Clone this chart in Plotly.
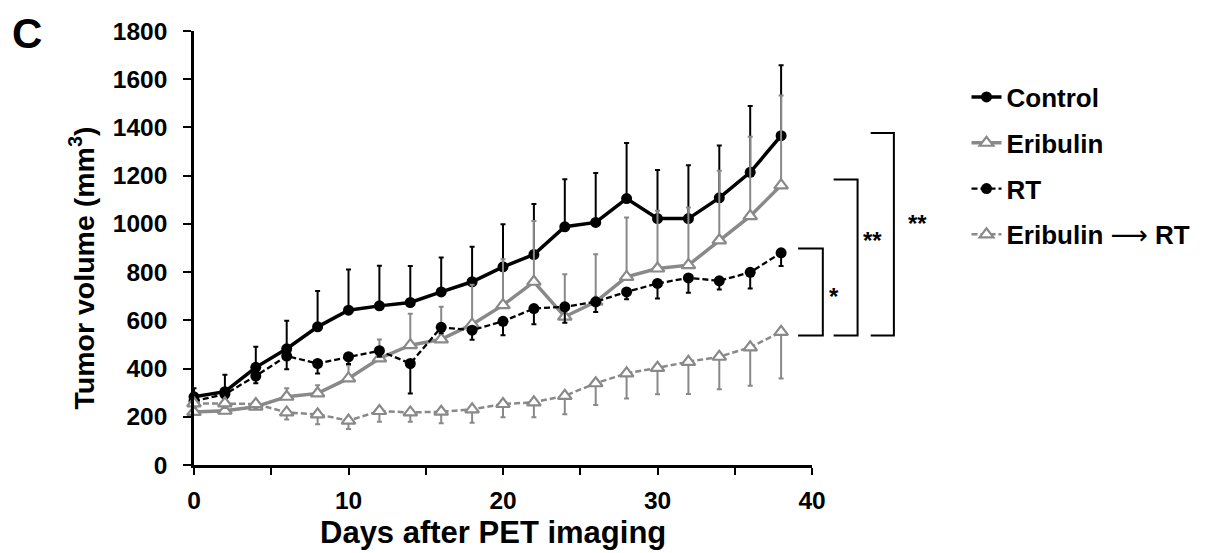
import plotly.graph_objects as go

# Days after PET imaging
days = [0, 2, 4, 6, 8, 10, 12, 14, 16, 18, 20, 22, 24, 26, 28, 30, 32, 34, 36, 38]

# Mean tumor volume (mm^3) per group and error-bar lengths
control = [283, 304, 405, 482, 573, 642, 660, 674, 718, 760, 822, 873, 988, 1006, 1105, 1022, 1022, 1108, 1214, 1366]
control_err = [35, 70, 85, 116, 149, 169, 166, 151, 143, 145, 177, 209, 197, 205, 231, 201, 221, 217, 275, 292]

eribulin = [220, 225, 242, 283, 297, 359, 442, 497, 521, 583, 663, 760, 615, 677, 780, 815, 829, 932, 1032, 1160]
eribulin_err = [20, 20, 15, 35, 34, 55, 79, 130, 135, 165, 190, 252, 176, 197, 246, 239, 239, 288, 329, 373]

rt = [265, 294, 369, 452, 421, 449, 474, 421, 571, 559, 596, 649, 656, 677, 718, 753, 776, 764, 799, 880]
rt_err = [15, 20, 30, 55, 41, 30, 25, 124, 25, 40, 58, 65, 66, 42, 31, 62, 62, 36, 67, 55]

eri_rt = [256, 256, 253, 218, 210, 184, 224, 218, 221, 231, 253, 260, 287, 339, 380, 403, 428, 449, 488, 552]
eri_rt_err = [20, 20, 20, 29, 41, 35, 45, 39, 48, 56, 55, 62, 77, 90, 104, 110, 134, 135, 159, 193]

series_names = ["Control", "Eribulin", "RT",
                "Eribulin <span style='font-family:DejaVu Sans;font-weight:normal'>\u27f6</span> RT"]

# Axis ticks: labelled every 10 days, minor ticks every 5
x_tickvals = [0, 10, 20, 30, 40]
x_minor_step = 5
y_tickvals = [0, 200, 400, 600, 800, 1000, 1200, 1400, 1600, 1800]

# Significance brackets (day positions of left/right ends, top level, common bottom level)
bracket_left = [39.1, 41.4, 43.8]
bracket_right = [40.7, 42.95, 45.3]
bracket_tops = [898, 1184, 1377]
bracket_bottom = 537
sig_labels = ["*", "**", "**"]
sig_x = [41.45, 43.9, 46.8]
sig_y = [700, 932, 1003]

FONT = "Arial, Liberation Sans, sans-serif"
BLACK = "#000000"
GRAY = "#898989"
X_MAX = 40

fig = go.Figure()


def add_series(name, y, err, color, width, dash, symbol, fill, upward, group):
    err_kw = dict(type="data", symmetric=False, color=color, thickness=2, width=2.5, visible=True)
    if upward:
        err_kw["array"] = err
        err_kw["arrayminus"] = [0] * len(err)
    else:
        err_kw["array"] = [0] * len(err)
        err_kw["arrayminus"] = err
    fig.add_trace(go.Scatter(
        x=days, y=y, name=name, mode="lines+markers",
        legendgroup=group,
        line=dict(color=color, width=width, dash=dash),
        marker=dict(symbol=symbol, size=11 if symbol == "circle" else 12,
                    color=fill, line=dict(color=color, width=0 if symbol == "circle" else 2.2)),
        error_y=err_kw,
        cliponaxis=False,
    ))


add_series(series_names[0], control, control_err, BLACK, 3.5, "solid", "circle", BLACK, True, "g1")
add_series(series_names[1], eribulin, eribulin_err, GRAY, 3.5, "solid", "triangle-up", "white", True, "g2")
add_series(series_names[2], rt, rt_err, BLACK, 2.3, "6px,3px", "circle", BLACK, False, "g3")
add_series(series_names[3], eri_rt, eri_rt_err, GRAY, 2.5, "6px,3px", "triangle-up", "white", False, "g4")

shapes = []
for xl, xr, top in zip(bracket_left, bracket_right, bracket_tops):
    x0, x1 = xl / X_MAX, xr / X_MAX
    path = f"M{x0},{top} L{x1},{top} L{x1},{bracket_bottom} L{x0},{bracket_bottom}"
    shapes.append(dict(type="path", xref="paper", yref="y", path=path,
                       line=dict(color=BLACK, width=2)))

annotations = []
for lbl, sx, sy in zip(sig_labels, sig_x, sig_y):
    annotations.append(dict(text=f"<b>{lbl}</b>", x=sx / X_MAX, y=sy, xref="paper", yref="y",
                            showarrow=False, xanchor="center", yanchor="middle",
                            font=dict(family=FONT, size=24, color=BLACK)))

# Panel letter
annotations.append(dict(text="<b>C</b>", x=-0.2695, y=0.994, xref="paper", yref="paper",
                        showarrow=False, xanchor="center", yanchor="middle",
                        font=dict(family=FONT, size=42, color=BLACK)))
# Axis titles
annotations.append(dict(text="<b>Tumor volume (mm<sup>3</sup>)</b>", x=-0.1815, y=0.4548,
                        xref="paper", yref="paper", textangle=-90, showarrow=False,
                        xanchor="center", yanchor="middle",
                        font=dict(family=FONT, size=28.5, color=BLACK)))
annotations.append(dict(text="<b>Days after PET imaging</b>", x=0.484, y=-0.1566,
                        xref="paper", yref="paper", showarrow=False,
                        xanchor="center", yanchor="middle",
                        font=dict(family=FONT, size=31, color=BLACK)))

fig.update_layout(
    width=1208, height=553,
    margin=dict(l=194, r=396, t=31, b=88, pad=0),
    paper_bgcolor="white", plot_bgcolor="white",
    font=dict(family=FONT, color=BLACK),
    showlegend=True,
    legend=dict(x=1.25, y=0.902, xanchor="left", yanchor="top",
                font=dict(family=FONT, size=26, color=BLACK, weight="bold"),
                tracegroupgap=9, bgcolor="rgba(0,0,0,0)"),
    xaxis=dict(range=[0, X_MAX], tickvals=x_tickvals,
               ticks="outside", ticklen=7, tickwidth=2, tickcolor=BLACK,
               minor=dict(dtick=x_minor_step, tick0=0, ticks="outside", ticklen=7,
                          tickwidth=2, tickcolor=BLACK, showgrid=False),
               showline=True, linewidth=2.5, linecolor=BLACK,
               showgrid=False, zeroline=False, ticklabelstandoff=5,
               tickfont=dict(family=FONT, size=24.5, color=BLACK, weight="bold")),
    yaxis=dict(range=[0, 1800], tickvals=y_tickvals,
               ticks="outside", ticklen=8, tickwidth=2, tickcolor=BLACK,
               showline=True, linewidth=2.5, linecolor=BLACK,
               showgrid=False, zeroline=False, ticklabelstandoff=11,
               tickfont=dict(family=FONT, size=24.5, color=BLACK, weight="bold")),
    shapes=shapes,
    annotations=annotations,
)

fig.write_html("out.html")
